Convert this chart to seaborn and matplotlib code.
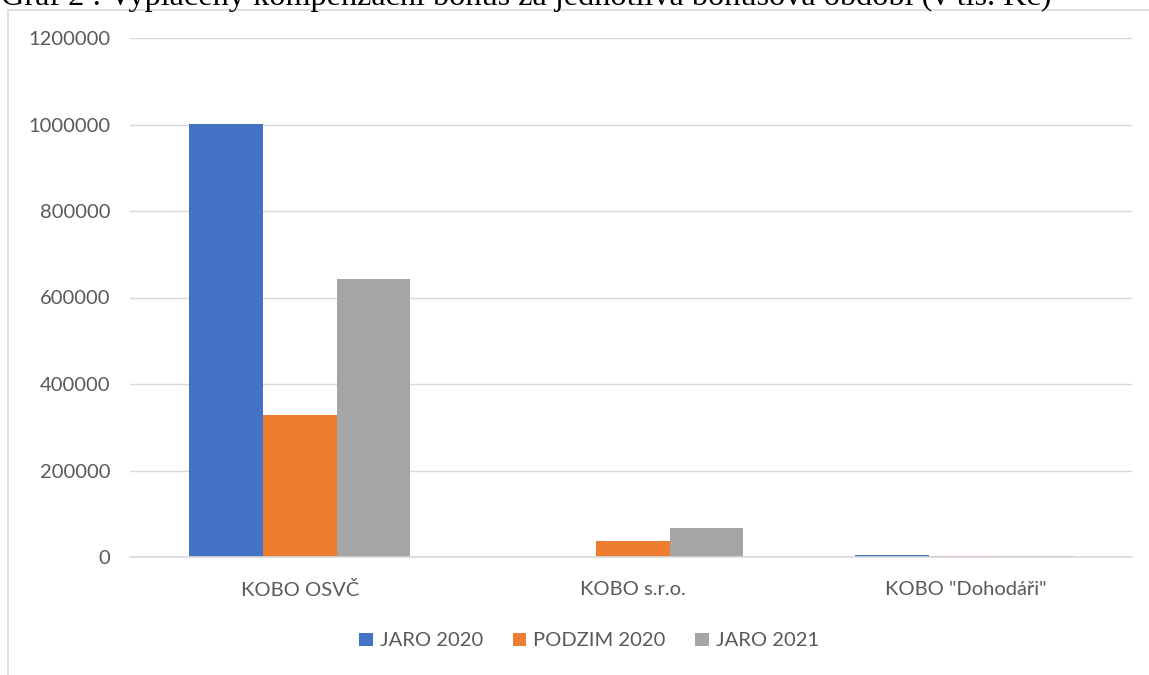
import matplotlib
matplotlib.use("Agg")
import matplotlib.pyplot as plt
import seaborn as sns
import pandas as pd
from matplotlib.patches import Patch
from matplotlib.lines import Line2D

categories = ["KOBO OSVČ", "KOBO s.r.o.", "KOBO \"Dohodáři\""]
series = ["JARO 2020", "PODZIM 2020", "JARO 2021"]
jaro_2020 = [1002000, 0, 5000]
podzim_2020 = [328000, 36000, 3000]
jaro_2021 = [643000, 67000, 1500]
colors = ["#4472C4", "#ED7D31", "#A5A5A5"]
title = "Graf 2 : Vyplacený kompenzační bonus za jednotlivá bonusová období (v tis. Kč)"

rows = []
for s, vals in zip(series, [jaro_2020, podzim_2020, jaro_2021]):
    for c, v in zip(categories, vals):
        rows.append({"cat": c, "series": s, "value": v})
df = pd.DataFrame(rows)

sns.set_theme(style="white")
plt.rcParams['font.family'] = ['Lato', 'DejaVu Sans']

W, H = 1149, 675
fig = plt.figure(figsize=(W / 100, H / 100), dpi=100)
ax = fig.add_axes([130 / W, 1 - 557 / H, (1132 - 130) / W, (557 - 38) / H])

sns.barplot(data=df, x="cat", y="value", hue="series", palette=colors,
            width=0.665, ax=ax, legend=False, saturation=1, linewidth=0)

ax.set_ylim(0, 1200000)
ax.set_xlim(-0.51, 2.5)
ax.set_yticks(range(0, 1200001, 200000))
ax.set_yticklabels([str(v) for v in range(0, 1200001, 200000)])
ax.grid(axis="y", color="#D9D9D9", linewidth=1)
ax.set_axisbelow(True)
for sp in ["top", "right", "left"]:
    ax.spines[sp].set_visible(False)
ax.spines["bottom"].set_color("#D9D9D9")
ax.spines["bottom"].set_linewidth(1.2)
ax.tick_params(axis="both", length=0, labelsize=14.5, colors="#595959")
ax.tick_params(axis="y", pad=14)
ax.tick_params(axis="x", pad=17)
ax.set_xlabel("")
ax.set_ylabel("")

handles = [Patch(facecolor=c, edgecolor="none") for c in colors]
fig.legend(handles, series, loc="center", bbox_to_anchor=(589 / W, 1 - 641 / H),
           ncol=3, frameon=False, fontsize=14.5, labelcolor="#595959",
           handlelength=0.68, handleheight=0.68, handletextpad=0.35, columnspacing=1.45)

# chart frame (top and left)
fig.add_artist(Line2D([8 / W, 8 / W], [0, 1 - 9.5 / H], transform=fig.transFigure,
                      color="#D9D9D9", linewidth=1.2))
fig.add_artist(Line2D([8 / W, 1], [1 - 9.5 / H, 1 - 9.5 / H], transform=fig.transFigure,
                      color="#D9D9D9", linewidth=1.2))

fig.text(1 / W, 1 - 5 / H, title, fontsize=23.25, family=["Liberation Serif", "DejaVu Serif"],
         color="black", ha="left", va="baseline")

fig.savefig("out.png", dpi=100, facecolor="white")
